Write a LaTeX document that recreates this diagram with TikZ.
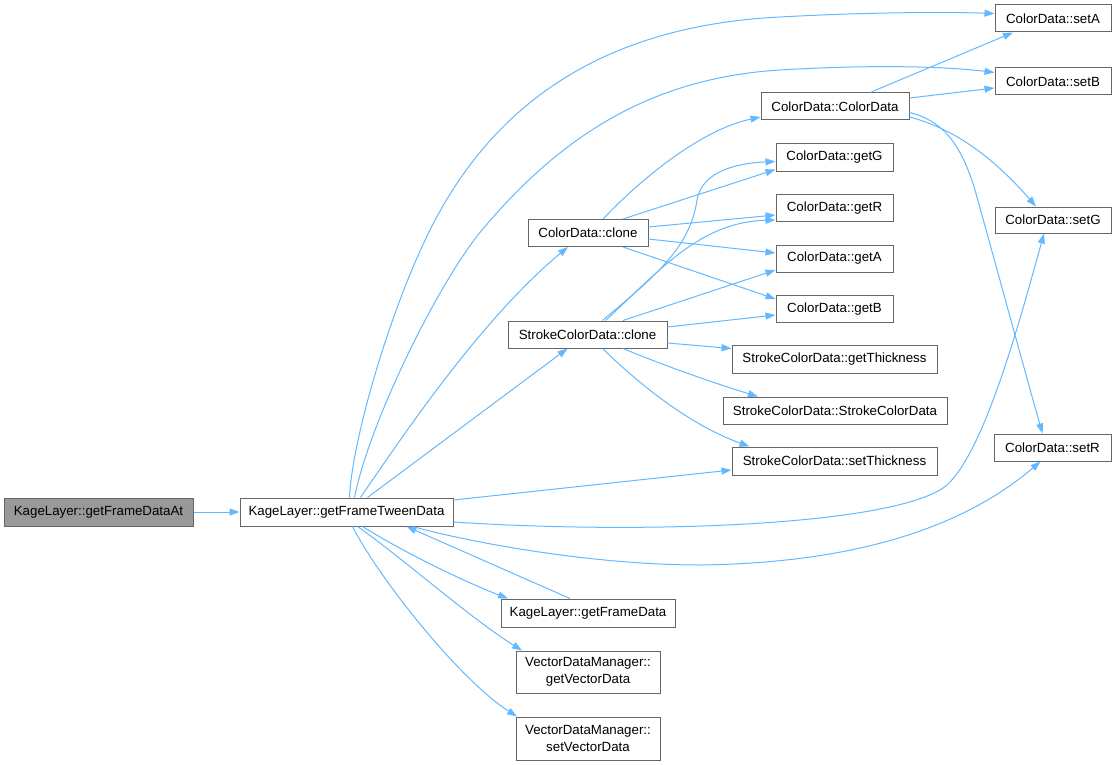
\documentclass[tikz,border=0pt]{standalone}
\usepackage{fontspec}
\setmainfont{Liberation Sans}
\usetikzlibrary{arrows.meta}
\definecolor{edgeblue}{RGB}{99,184,255}
\definecolor{boxline}{RGB}{102,102,102}
\definecolor{rootfill}{RGB}{153,153,153}
\tikzset{
  fn/.style={draw=boxline,fill=white,line width=1pt,inner sep=0pt,minimum height=27pt,
    align=center,font=\fontsize{13.3}{17}\selectfont},
  rootfn/.style={fn,fill=rootfill},
  call/.style={draw=edgeblue,line width=1pt,-{Triangle[length=10pt,width=7pt]}}
}
\begin{document}
\begin{tikzpicture}[x=1pt,y=-1pt]
	\useasboundingbox (0,0) rectangle (1116,765);
	\node[rootfn,minimum width=189pt,minimum height=28pt] (frameat) at (98.5,512) {KageLayer::getFrameDataAt};
	\node[fn,minimum width=213pt,minimum height=28pt] (tween) at (346.5,512) {KageLayer::getFrameTweenData};
	\node[fn,minimum width=120pt] (cclone) at (588,233) {ColorData::clone};
	\node[fn,minimum width=159pt] (sclone) at (587.5,334.5) {StrokeColorData::clone};
	\node[fn,minimum width=174pt,minimum height=28pt] (framedata) at (588,613) {KageLayer::getFrameData};
	\node[fn,minimum width=144pt,minimum height=42pt] (getvec) at (588,672) {VectorDataManager::\\getVectorData};
	\node[fn,minimum width=144pt,minimum height=43pt] (setvec) at (588,738.5) {VectorDataManager::\\setVectorData};
	\node[fn,minimum width=148pt] (cdctor) at (835,106.5) {ColorData::ColorData};
	\node[fn,minimum width=117pt] (getg) at (834.5,157.5) {ColorData::getG};
	\node[fn,minimum width=117pt] (getr) at (834.5,208) {ColorData::getR};
	\node[fn,minimum width=117pt] (geta) at (834.5,258.5) {ColorData::getA};
	\node[fn,minimum width=117pt] (getb) at (834.5,309) {ColorData::getB};
	\node[fn,minimum width=205pt,minimum height=28pt] (getthick) at (834.5,359.5) {StrokeColorData::getThickness};
	\node[fn,minimum width=224pt] (sctor) at (835,410.5) {StrokeColorData::StrokeColorData};
	\node[fn,minimum width=205pt,minimum height=28pt] (setthick) at (834.5,461) {StrokeColorData::setThickness};
	\node[fn,minimum width=116pt] (seta) at (1053,18.5) {ColorData::setA};
	\node[fn,minimum width=116pt] (setb) at (1053,81.5) {ColorData::setB};
	\node[fn,minimum width=116pt,minimum height=26pt] (setg) at (1053,220) {ColorData::setG};
	\node[fn,minimum width=117pt] (setr) at (1052.5,447.5) {ColorData::setR};
	\draw[call] (frameat)--(tween);
	\draw[call] ([xshift=3pt]tween.north) .. controls (352,440) and (390,310) .. (430,230)
		.. controls (500,90) and (620,25) .. (780,17) .. controls (870,12) and (950,12) .. ([yshift=5pt]seta.west);
	\draw[call] ([xshift=8pt]tween.north) .. controls (370,420) and (440,280) .. (482,230)
		.. controls (560,137) and (650,78) .. (780,70) .. controls (880,64) and (950,67) .. ([yshift=9pt]setb.west);
	\draw[call] ([xshift=14pt]tween.north) .. controls (400,440) and (480,320) .. ([xshift=-20pt]cclone.south);
	\draw[call] ([xshift=21pt]tween.north)--([xshift=-20pt]sclone.south);
	\draw[call] ([yshift=12pt]tween.east)--([yshift=-9pt]setthick.west);
	\draw[call] ([yshift=-10pt]tween.east) .. controls (650,535) and (900,525) .. (947,485)
		.. controls (985,450) and (1020,320) .. ([xshift=-9pt]setg.south);
	\draw[call] ([xshift=66pt]tween.south) .. controls (480,545) and (600,565) .. (700,565)
		.. controls (850,563) and (960,530) .. ([xshift=-12pt]setr.south);
	\draw[call] ([xshift=16pt]tween.south) .. controls (400,550) and (460,580) .. ([xshift=-80pt]framedata.north);
	\draw[call] ([xshift=-18pt]framedata.north)--([xshift=60pt]tween.south);
	\draw[call] ([xshift=11pt]tween.south) .. controls (400,556) and (470,618) .. ([xshift=-66pt]getvec.north);
	\draw[call] ([xshift=6pt]tween.south) .. controls (380,580) and (460,680) .. ([xshift=-71pt]setvec.north);
	\draw[call] ([xshift=15pt]cclone.north) .. controls (640,180) and (700,130) .. ([yshift=-10.5pt]cdctor.west);
	\draw[call] ([xshift=35pt]cclone.north)--([yshift=-12pt]getg.west);
	\draw[call] ([yshift=6pt]cclone.east)--([yshift=-7pt]getr.west);
	\draw[call] ([yshift=-6pt]cclone.east)--([yshift=5.5pt]geta.west);
	\draw[call] ([xshift=35pt]cclone.south)--([yshift=10pt]getb.west);
	\draw[call] ([xshift=15pt]sclone.north) .. controls (650,280) and (690,250) .. (697,200)
		.. controls (702,170) and (740,163) .. ([yshift=-4pt]getg.west);
	\draw[call] ([xshift=18pt]sclone.north) .. controls (660,270) and (700,222) .. ([yshift=-12pt]getr.west);
	\draw[call] ([xshift=35.5pt]sclone.north)--([yshift=-11.5pt]geta.west);
	\draw[call] ([yshift=7.5pt]sclone.east)--([yshift=-6pt]getb.west);
	\draw[call] ([yshift=-8.5pt]sclone.east)--([yshift=11pt]getthick.west);
	\draw[call] ([xshift=35.5pt]sclone.south) .. controls (670,368) and (720,385) .. ([xshift=-77pt]sctor.north);
	\draw[call] ([xshift=15pt]sclone.south) .. controls (640,385) and (690,425) .. ([xshift=-85pt]setthick.north);
	\draw[call] ([xshift=35pt]cdctor.north)--([xshift=-40pt]seta.south);
	\draw[call] ([yshift=8.5pt]cdctor.east)--([yshift=-6.5pt]setb.west);
	\draw[call] ([yshift=-10.5pt]cdctor.east) .. controls (960,130) and (1000,165) .. ([xshift=-17pt]setg.north);
	\draw[call] ([yshift=-6pt]cdctor.east) .. controls (940,120) and (960,140) .. (975,190)
		.. controls (1000,280) and (1030,390) .. ([xshift=-10pt]setr.north);
\end{tikzpicture}
\end{document}
